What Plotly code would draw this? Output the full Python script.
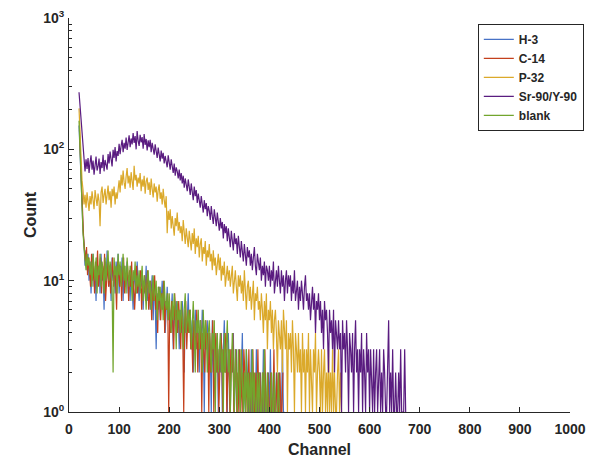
import plotly.graph_objects as go

# ---- data (counts per channel; one value every 2 channels) ----
STEP = 2
h3_start = 20
h3_counts = [152, 88, 54, 34, 24, 19, 13, 17, 12, 16,
             10, 14, 8, 13, 16, 9, 12, 7, 15, 11,
             13, 8, 16, 10, 12, 6, 14, 9, 17, 11,
             9, 13, 7, 15, 10, 12, 8, 14, 11, 16,
             8, 12, 10, 15, 7, 13, 9, 11, 14, 8,
             11, 7, 13, 9, 6, 12, 10, 8, 14, 9,
             7, 11, 9, 12, 6, 10, 8, 13, 7, 9,
             10, 6, 8, 11, 5, 9, 7, 3, 8, 6,
             9, 5, 7, 10, 6, 8, 4, 7, 9, 5,
             7, 4, 6, 8, 3, 6, 5, 7, 4, 6,
             3, 6, 4, 7, 5, 2, 6, 4, 5, 8,
             4, 6, 3, 5, 2, 4, 6, 3, 5, 4,
             2, 5, 3, 6, 4, 1, 4, 3, 5, 2,
             4, 3, 1, 5, 2, 4, 3, 2, 4, 1,
             3, 2, 4, 1, 3, 5, 2, 3, 1, 4,
             2, 1, 3, 2, 4, 1, 2, 3, 1, 2,
             3, 1, 2, 4, 1, 2, 1, 3, 2, 1,
             2, 1, 3, 1, 2, 1, 1, 3, 1, 2,
             1, 2, 1, 1, 3, 1, 2, 1, 1, 2,
             1, 3, 1, 1, 2, 1, 1, 2, 1, 1,
             2, 1, 1, 3, 1, 1]

c14_start = 21
c14_counts = [140, 82, 50, 31, 22, 17, 14, 18, 11, 15,
              12, 9, 16, 10, 13, 8, 14, 11, 17, 9,
              12, 15, 8, 13, 10, 16, 7, 12, 14, 9,
              13, 8, 11, 15, 9, 12, 10, 6, 14, 11,
              9, 13, 7, 12, 15, 8, 11, 10, 13, 7,
              12, 9, 14, 8, 10, 6, 11, 13, 8, 10,
              9, 12, 6, 10, 8, 11, 7, 9, 12, 6,
              8, 10, 5, 9, 7, 11, 6, 8, 4, 9,
              7, 5, 8, 6, 10, 4, 7, 6, 8, 1,
              6, 4, 7, 5, 3, 8, 5, 6, 4, 7,
              5, 3, 6, 4, 1, 5, 7, 3, 5, 4,
              6, 3, 4, 2, 5, 4, 3, 6, 2, 4,
              3, 5, 1, 4, 3, 2, 5, 3, 4, 1,
              4, 2, 3, 5, 1, 3, 4, 2, 3, 1,
              2, 4, 3, 1, 3, 2, 4, 1, 2, 3,
              1, 3, 2, 4, 1, 2, 3, 1, 2, 1,
              3, 1, 2, 1, 3, 2, 1, 2, 1, 3,
              1, 2, 1, 3, 1, 1, 2, 1, 3, 1,
              2, 1, 1, 2, 1, 3, 1, 1, 2, 1,
              1, 2, 1, 1, 3, 1, 1, 2, 1, 1,
              2, 1, 1, 2]

p32_start = 20
p32_counts = [205, 128, 86, 58, 49, 38, 45, 36, 47, 40,
              34, 44, 38, 48, 41, 35, 49, 43, 37, 46,
              40, 26, 47, 52, 39, 45, 50, 38, 46, 53,
              41, 48, 36, 50, 44, 52, 38, 47, 42, 49,
              58, 47, 64, 53, 69, 56, 50, 62, 72, 55,
              63, 51, 67, 57, 49, 75, 58, 64, 52, 61,
              55, 66, 48, 59, 52, 63, 46, 57, 61, 49,
              56, 45, 60, 50, 43, 55, 47, 52, 40, 49,
              54, 42, 47, 38, 50, 41, 36, 44, 23, 34,
              29, 35, 25, 31, 27, 22, 30, 26, 33, 24,
              28, 23, 26, 20, 29, 24, 19, 25, 22, 18,
              24, 20, 17, 23, 19, 25, 16, 21, 18, 22,
              15, 19, 21, 14, 18, 16, 20, 13, 17, 15,
              19, 14, 16, 12, 17, 13, 15, 11, 14, 16,
              12, 15, 10, 13, 11, 14, 9, 12, 13, 10,
              12, 9, 11, 13, 8, 10, 12, 9, 7, 11,
              9, 11, 8, 10, 7, 12, 8, 6, 9, 10,
              7, 9, 6, 8, 10, 5, 8, 7, 9, 6,
              7, 5, 8, 6, 4, 7, 5, 8, 3, 6,
              5, 7, 4, 6, 3, 5, 6, 4, 2, 5,
              4, 3, 5, 2, 6, 4, 3, 5, 1, 4,
              3, 4, 2, 5, 3, 1, 4, 3, 2, 4,
              2, 3, 1, 4, 2, 3, 1, 3, 2, 4,
              1, 3, 2, 1, 3, 2, 4, 1, 2, 3,
              2, 1, 3, 1, 2, 3, 1, 2, 1, 3,
              1, 2, 1, 3, 1, 2, 1, 1, 2, 3,
              1, 2, 1]

sr90_start = 20
sr90_counts = [272, 215, 168, 138, 104, 92, 68, 84, 71, 86,
               66, 79, 90, 70, 82, 64, 77, 88, 69, 74,
               85, 65, 80, 72, 91, 68, 83, 76, 70, 92,
               78, 96, 84, 74, 99, 86, 104, 81, 97, 89,
               110, 92, 106, 118, 95, 112, 101, 123, 99, 115,
               128, 104, 121, 109, 133, 112, 126, 100, 138, 116,
               106, 129, 113, 124, 101, 131, 108, 120, 98, 117,
               104, 118, 95, 112, 100, 91, 109, 96, 86, 103,
               92, 81, 98, 85, 94, 78, 89, 82, 73, 90,
               79, 70, 84, 74, 66, 78, 63, 73, 68, 60,
               70, 58, 66, 55, 63, 51, 60, 54, 48, 59,
               51, 45, 55, 47, 41, 52, 44, 49, 39, 46,
               42, 36, 44, 38, 33, 41, 35, 39, 31, 37,
               34, 29, 37, 31, 27, 35, 30, 26, 33, 28,
               24, 30, 25, 28, 21, 27, 23, 26, 20, 25,
               22, 18, 24, 20, 17, 23, 19, 21, 16, 22,
               18, 15, 20, 17, 14, 19, 16, 13, 18, 15,
               17, 13, 16, 12, 15, 18, 13, 11, 16, 14,
               12, 15, 10, 13, 11, 14, 9, 13, 12, 10,
               13, 9, 12, 10, 14, 8, 11, 12, 9, 13,
               10, 8, 12, 9, 11, 7, 10, 12, 8, 11,
               9, 11, 7, 10, 8, 12, 7, 9, 10, 6,
               9, 7, 10, 8, 6, 9, 11, 7, 8, 6,
               8, 5, 7, 9, 6, 8, 4, 7, 6, 8,
               5, 7, 4, 6, 3, 7, 5, 6, 4, 2,
               6, 4, 5, 3, 6, 2, 5, 4, 3, 5,
               3, 4, 1, 5, 3, 4, 2, 5, 3, 1,
               4, 3, 2, 4, 1, 3, 5, 2, 3, 1,
               3, 2, 4, 1, 3, 2, 1, 4, 2, 3,
               1, 3, 2, 1, 3, 1, 2, 3, 1, 2,
               3, 1, 2, 1, 3, 2, 1, 1, 2, 5,
               1, 2, 1, 3, 1, 1, 2, 1, 1, 2,
               1, 3, 1, 1, 1, 3, 1]

blank_start = 20
blank_counts = [165, 95, 52, 33, 23, 18, 15, 12, 16, 13,
                15, 11, 14, 9, 16, 12, 10, 15, 8, 13,
                11, 16, 9, 14, 12, 8, 15, 10, 13, 17,
                10, 14, 12, 9, 2, 15, 11, 13, 8, 16,
                11, 14, 9, 12, 16, 10, 13, 8, 15, 11,
                9, 13, 11, 7, 12, 10, 14, 8, 11, 9,
                12, 8, 10, 13, 7, 11, 9, 6, 10, 12,
                8, 10, 6, 9, 11, 7, 8, 10, 5, 9,
                7, 9, 6, 8, 5, 10, 7, 6, 8, 5,
                8, 6, 4, 7, 5, 8, 6, 3, 7, 5,
                6, 4, 7, 5, 3, 6, 8, 4, 5, 6,
                4, 6, 3, 5, 7, 4, 2, 5, 4, 6,
                3, 5, 4, 2, 6, 3, 5, 4, 2, 4,
                5, 3, 2, 4, 3, 5, 1, 3, 4, 2,
                3, 4, 2, 3, 1, 4, 2, 3, 5, 2,
                3, 1, 2, 4, 2, 1, 3, 2, 1, 3,
                2, 1, 3, 2, 1, 2, 1, 3, 1, 2,
                1, 2, 1, 3, 1, 2, 1, 1, 2, 1,
                2, 1, 1, 2, 1, 3, 1, 1, 2, 1,
                1, 1, 2, 1, 1, 2, 1, 1, 1, 2,
                1]

series_names = ["H-3", "C-14", "P-32", "Sr-90/Y-90", "blank"]
series_colors = ["#4772c6", "#c4401c", "#dba92a", "#5a1c80", "#72a52d"]
series_data = [(h3_start, h3_counts), (c14_start, c14_counts), (p32_start, p32_counts),
               (sr90_start, sr90_counts), (blank_start, blank_counts)]

x_ticks = [0, 100, 200, 300, 400, 500, 600, 700, 800, 900, 1000]
y_ticks = [1, 10, 100, 1000]
y_ticktext = ["10<sup>0</sup>", "10<sup>1</sup>", "10<sup>2</sup>", "10<sup>3</sup>"]
y_minor = [m * d for d in (1, 10, 100) for m in range(2, 10)]

FONT = "Liberation Sans, Arial, Helvetica, sans-serif"
INK = "#262626"

fig = go.Figure()
for name, color, (start, counts) in zip(series_names, series_colors, series_data):
    xs = [start + STEP * i for i in range(len(counts))]
    fig.add_trace(go.Scatter(x=xs, y=counts, mode="lines", name=name,
                             line=dict(color=color, width=1.2)))

# the page body adds an 8px offset, so the figure is sized to fit the 606x463 window
fig.update_layout(
    width=598, height=455,
    margin=dict(l=61, r=36, t=10, b=51),
    paper_bgcolor="white", plot_bgcolor="white",
    font=dict(family=FONT, color=INK),
    showlegend=True,
    legend=dict(x=0.816, y=0.985, xanchor="left", yanchor="top",
                bgcolor="white", bordercolor=INK, borderwidth=1,
                font=dict(family=FONT, size=12, color=INK, weight="bold"),
                tracegroupgap=0, itemwidth=30),
)
fig.update_xaxes(
    range=[0, 1000], tickvals=x_ticks, ticks="inside", ticklen=5, tickwidth=1,
    tickcolor=INK, showline=True, linecolor=INK, linewidth=1,
    mirror=False, showgrid=False, zeroline=False, automargin=False,
    ticklabelstandoff=4, ticklabeloverflow="allow",
    tickfont=dict(family=FONT, size=14, color=INK, weight="bold"),
    title=dict(text="Channel", font=dict(family=FONT, size=16, color=INK, weight="bold"),
               standoff=8),
)
fig.update_yaxes(
    type="log", range=[0, 3], tickvals=y_ticks, ticktext=y_ticktext,
    ticks="inside", ticklen=5, tickwidth=1, tickcolor=INK,
    minor=dict(tickvals=y_minor, ticks="inside", ticklen=3, tickcolor=INK),
    showline=True, linecolor=INK, linewidth=1, mirror=False,
    showgrid=False, zeroline=False, automargin=False, ticklabelstandoff=1,
    ticklabeloverflow="allow",
    tickfont=dict(family=FONT, size=14, color=INK, weight="bold"),
    title=dict(text="Count", font=dict(family=FONT, size=16, color=INK, weight="bold"),
               standoff=2),
)

fig.write_html("out.html")
